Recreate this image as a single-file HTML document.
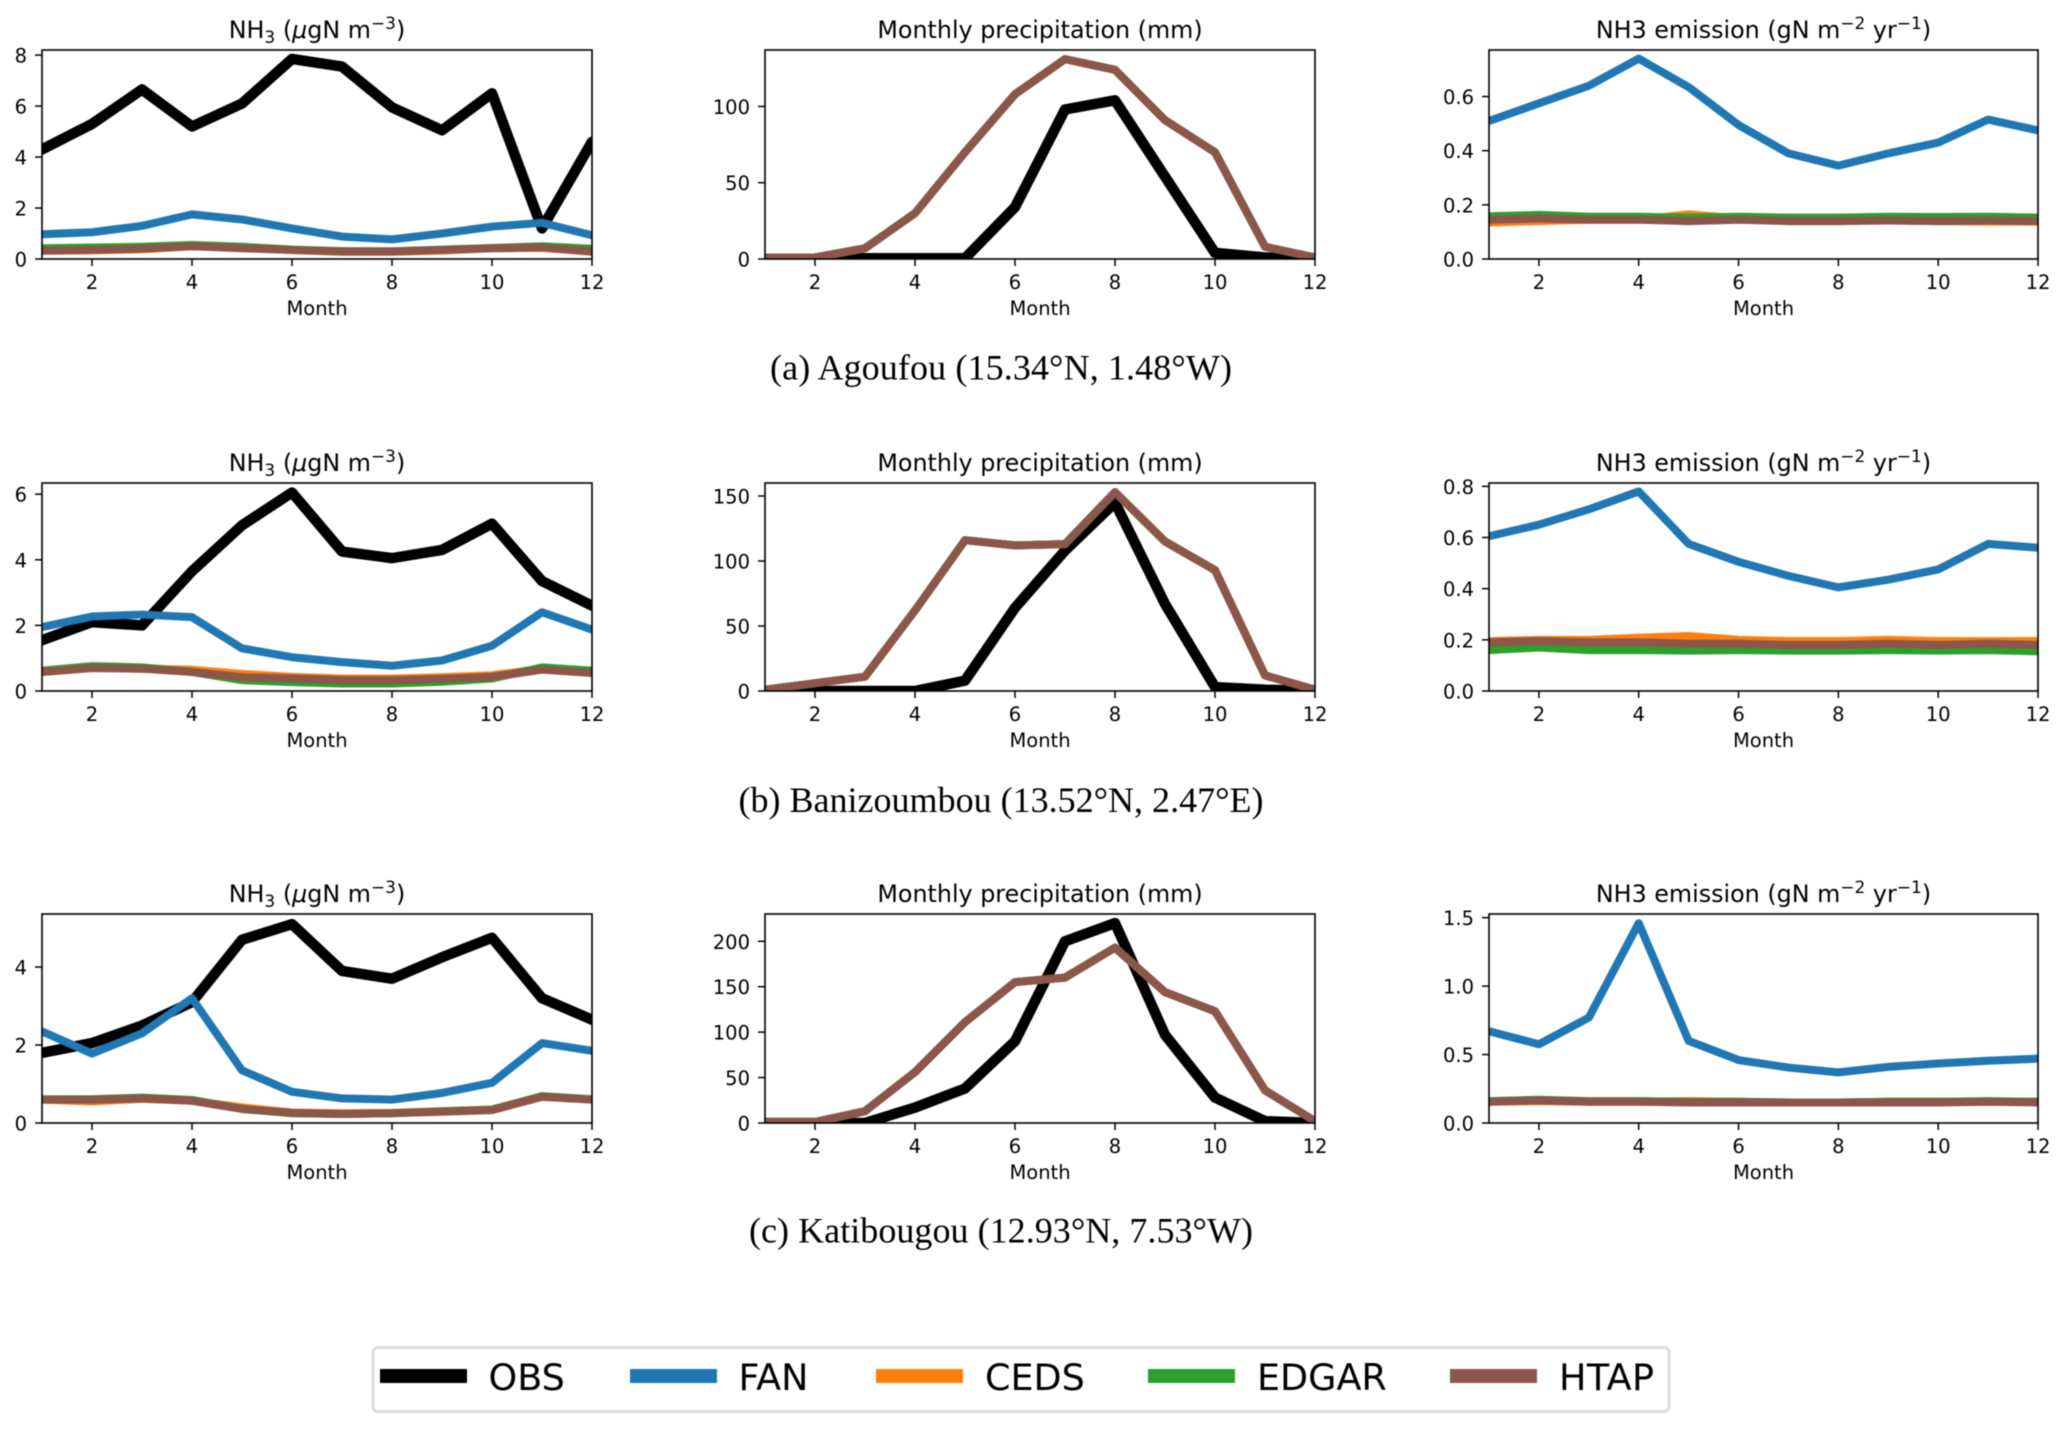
<!DOCTYPE html>
<html lang="en">
<head>
<meta charset="utf-8">
<title>NH3, precipitation and emission at three sites</title>
<style>
html,body{margin:0;padding:0;background:#fff;overflow:hidden;}
svg{display:block;filter:blur(0.45px);}
text{font-family:"DejaVu Sans","Liberation Sans",sans-serif;fill:#000;}
.caption{font-family:"Liberation Serif",serif;font-size:36px;}
</style>
</head>
<body>
<svg id="figure" width="2067" height="1431" viewBox="0 0 2067 1431" xmlns="http://www.w3.org/2000/svg">
  <rect x="0" y="0" width="2067" height="1431" fill="#fff"/>
  <g id="panels"></g>
  <text class="caption" x="1001" y="379.5" text-anchor="middle" textLength="462" lengthAdjust="spacing">(a) Agoufou (15.34°N, 1.48°W)</text>
  <text class="caption" x="1001" y="812" text-anchor="middle" textLength="525" lengthAdjust="spacing">(b) Banizoumbou (13.52°N, 2.47°E)</text>
  <text class="caption" x="1001" y="1242.5" text-anchor="middle" textLength="504" lengthAdjust="spacing">(c) Katibougou (12.93°N, 7.53°W)</text>
  <g>
    <rect x="373" y="1347.5" width="1296" height="64" rx="5" fill="#fff" stroke="#dcdcdc" stroke-width="3"/>
    <rect x="380" y="1369" width="87" height="14" fill="#000"/>
    <text x="488.5" y="1390" font-size="36.5">OBS</text>
    <rect x="630" y="1369" width="87" height="14" fill="#1f77b4"/>
    <text x="738.5" y="1390" font-size="36.5">FAN</text>
    <rect x="876" y="1369" width="87" height="14" fill="#ff7f0e"/>
    <text x="985" y="1390" font-size="36.5">CEDS</text>
    <rect x="1148" y="1369" width="87" height="14" fill="#2ca02c"/>
    <text x="1257" y="1390" font-size="36.5">EDGAR</text>
    <rect x="1450" y="1369" width="87" height="14" fill="#8c564b"/>
    <text x="1559" y="1390" font-size="36.5" textLength="95" lengthAdjust="spacing">HTAP</text>
  </g>
</svg>
<script>
// ---- shared categories and labels ----
const months = [1,2,3,4,5,6,7,8,9,10,11,12];
const xTickLabels = [2,4,6,8,10,12];

// ---- (a) Agoufou ----
const agoufouNh3Obs   = [4.3,5.3,6.65,5.2,6.1,7.85,7.55,5.95,5.05,6.5,1.2,4.6];
const agoufouNh3Fan   = [0.97,1.05,1.3,1.75,1.55,1.2,0.88,0.77,1.0,1.27,1.42,0.93];
const agoufouNh3Ceds  = [0.32,0.34,0.38,0.5,0.45,0.35,0.28,0.28,0.33,0.42,0.44,0.28];
const agoufouNh3Edgar = [0.42,0.45,0.48,0.55,0.48,0.37,0.31,0.3,0.37,0.43,0.5,0.4];
const agoufouNh3Htap  = [0.33,0.36,0.4,0.5,0.42,0.36,0.3,0.3,0.36,0.42,0.45,0.3];
const agoufouNh3Ticks = [0,2,4,6,8];
const agoufouRainObs   = [0,0,0.5,0.5,0.5,34,98,104,54,4,1,0];
const agoufouRainModel = [1,1,7,30,70,108,131,124,91,70,8,1];
const agoufouRainTicks = [0,50,100];
const agoufouEmisFan   = [0.51,0.575,0.64,0.74,0.635,0.495,0.39,0.345,0.39,0.43,0.515,0.475];
const agoufouEmisCeds  = [0.135,0.14,0.145,0.145,0.165,0.15,0.14,0.14,0.145,0.14,0.138,0.138];
const agoufouEmisEdgar = [0.158,0.163,0.156,0.156,0.153,0.156,0.153,0.153,0.156,0.155,0.156,0.153];
const agoufouEmisHtap  = [0.145,0.15,0.145,0.145,0.14,0.145,0.14,0.14,0.142,0.14,0.142,0.14];
const agoufouEmisTicks = ["0.0","0.2","0.4","0.6"];

// ---- (b) Banizoumbou ----
const baniNh3Obs   = [1.55,2.1,2.0,3.65,5.05,6.05,4.25,4.05,4.3,5.1,3.35,2.6];
const baniNh3Fan   = [1.95,2.27,2.33,2.25,1.3,1.03,0.88,0.77,0.93,1.38,2.4,1.87];
const baniNh3Ceds  = [0.58,0.7,0.68,0.65,0.52,0.43,0.38,0.38,0.42,0.48,0.68,0.58];
const baniNh3Edgar = [0.62,0.76,0.72,0.58,0.33,0.27,0.23,0.23,0.28,0.38,0.72,0.62];
const baniNh3Htap  = [0.58,0.7,0.68,0.58,0.42,0.38,0.33,0.33,0.37,0.43,0.65,0.55];
const baniNh3Ticks = [0,2,4,6];
const baniRainObs   = [0,0,0,0,8,64,108,145,67,3,1,0];
const baniRainModel = [1,6,11,62,116,112,113,153,115,93,12,1];
const baniRainTicks = [0,50,100,150];
const baniEmisFan   = [0.605,0.65,0.71,0.78,0.575,0.505,0.45,0.405,0.435,0.475,0.575,0.56];
const baniEmisCeds  = [0.195,0.2,0.2,0.208,0.215,0.2,0.195,0.195,0.2,0.195,0.195,0.195];
const baniEmisEdgar = [0.16,0.17,0.16,0.16,0.158,0.16,0.158,0.158,0.16,0.158,0.16,0.155];
const baniEmisHtap  = [0.19,0.195,0.19,0.19,0.185,0.185,0.18,0.18,0.185,0.18,0.185,0.18];
const baniEmisTicks = ["0.0","0.2","0.4","0.6","0.8"];

// ---- (c) Katibougou ----
const katiNh3Obs   = [1.8,2.05,2.5,3.1,4.7,5.1,3.9,3.7,4.25,4.75,3.2,2.65];
const katiNh3Fan   = [2.35,1.78,2.3,3.2,1.35,0.8,0.63,0.6,0.77,1.03,2.05,1.85];
const katiNh3Ceds  = [0.6,0.55,0.62,0.57,0.4,0.27,0.25,0.26,0.3,0.35,0.68,0.6];
const katiNh3Edgar = [0.61,0.61,0.65,0.59,0.36,0.25,0.23,0.25,0.3,0.34,0.69,0.61];
const katiNh3Htap  = [0.6,0.6,0.63,0.57,0.36,0.26,0.23,0.25,0.29,0.33,0.67,0.6];
const katiNh3Ticks = [0,2,4];
const katiRainObs   = [0,0,0,17,38,90,200,220,97,28,2,0];
const katiRainModel = [1,1,13,56,111,155,160,193,144,123,36,2];
const katiRainTicks = [0,50,100,150,200];
const katiEmisFan   = [0.67,0.575,0.77,1.46,0.6,0.46,0.405,0.37,0.41,0.435,0.455,0.47];
const katiEmisCeds  = [0.155,0.16,0.155,0.155,0.16,0.155,0.15,0.15,0.155,0.155,0.155,0.155];
const katiEmisEdgar = [0.16,0.17,0.16,0.16,0.155,0.155,0.15,0.15,0.155,0.155,0.16,0.155];
const katiEmisHtap  = [0.155,0.165,0.155,0.155,0.15,0.15,0.15,0.15,0.15,0.15,0.155,0.15];
const katiEmisTicks = ["0.0","0.5","1.0","1.5"];

// ---- y-axis upper limits, one per column, by site ----
const agoufouYMax = [8.2,137,0.772];
const baniYMax    = [6.34,160,0.813];
const katiYMax    = [5.36,230,1.527];

const seriesStyle = {
  OBS:{color:"#000000",width:10.5},
  FAN:{color:"#1f77b4",width:8},
  CEDS:{color:"#ff7f0e",width:8},
  EDGAR:{color:"#2ca02c",width:8},
  HTAP:{color:"#8c564b",width:8}
};

const panels = [
 {site:"agoufou",col:0,row:0,yMax:agoufouYMax[0],ticks:agoufouNh3Ticks,series:[["OBS",agoufouNh3Obs],["FAN",agoufouNh3Fan],["CEDS",agoufouNh3Ceds],["EDGAR",agoufouNh3Edgar],["HTAP",agoufouNh3Htap]]},
 {site:"agoufou",col:1,row:0,yMax:agoufouYMax[1],ticks:agoufouRainTicks,series:[["OBS",agoufouRainObs],["FAN",agoufouRainModel],["CEDS",agoufouRainModel],["EDGAR",agoufouRainModel],["HTAP",agoufouRainModel]]},
 {site:"agoufou",col:2,row:0,yMax:agoufouYMax[2],ticks:agoufouEmisTicks,series:[["FAN",agoufouEmisFan],["CEDS",agoufouEmisCeds],["EDGAR",agoufouEmisEdgar],["HTAP",agoufouEmisHtap]]},
 {site:"banizoumbou",col:0,row:1,yMax:baniYMax[0],ticks:baniNh3Ticks,series:[["OBS",baniNh3Obs],["FAN",baniNh3Fan],["CEDS",baniNh3Ceds],["EDGAR",baniNh3Edgar],["HTAP",baniNh3Htap]]},
 {site:"banizoumbou",col:1,row:1,yMax:baniYMax[1],ticks:baniRainTicks,series:[["OBS",baniRainObs],["FAN",baniRainModel],["CEDS",baniRainModel],["EDGAR",baniRainModel],["HTAP",baniRainModel]]},
 {site:"banizoumbou",col:2,row:1,yMax:baniYMax[2],ticks:baniEmisTicks,series:[["FAN",baniEmisFan],["CEDS",baniEmisCeds],["EDGAR",baniEmisEdgar],["HTAP",baniEmisHtap]]},
 {site:"katibougou",col:0,row:2,yMax:katiYMax[0],ticks:katiNh3Ticks,series:[["OBS",katiNh3Obs],["FAN",katiNh3Fan],["CEDS",katiNh3Ceds],["EDGAR",katiNh3Edgar],["HTAP",katiNh3Htap]]},
 {site:"katibougou",col:1,row:2,yMax:katiYMax[1],ticks:katiRainTicks,series:[["OBS",katiRainObs],["FAN",katiRainModel],["CEDS",katiRainModel],["EDGAR",katiRainModel],["HTAP",katiRainModel]]},
 {site:"katibougou",col:2,row:2,yMax:katiYMax[2],ticks:katiEmisTicks,series:[["FAN",katiEmisFan],["CEDS",katiEmisCeds],["EDGAR",katiEmisEdgar],["HTAP",katiEmisHtap]]}
];

// ---- page geometry ----
const colBox = [{l:42,r:592},{l:765,r:1315},{l:1489,r:2038}];
const rowBox = [{t:50,b:259},{t:483,b:691},{t:914,b:1123}];
const columnNames = ["nh3","precipitation","emission"];
const SVGNS = "http://www.w3.org/2000/svg";
const root = document.getElementById("panels");
const defs = document.createElementNS(SVGNS,"defs");
root.appendChild(defs);

function mk(tag,parent,attrs,txt){
  const el = document.createElementNS(SVGNS,tag);
  for(const k in attrs){ el.setAttribute(k,attrs[k]); }
  if(txt!==undefined){ el.textContent = txt; }
  parent.appendChild(el);
  return el;
}
function addTspan(textEl,txt,opts){
  const t = document.createElementNS(SVGNS,"tspan");
  if(opts&&opts.dy){ t.setAttribute("dy",opts.dy); }
  if(opts&&opts.size){ t.setAttribute("font-size",opts.size); }
  if(opts&&opts.italic){ t.setAttribute("font-style","italic"); }
  t.textContent = txt;
  textEl.appendChild(t);
}
function writeTitle(textEl,col){
  if(col===0){
    addTspan(textEl,"NH");
    addTspan(textEl,"3",{dy:5,size:17});
    addTspan(textEl," (",{dy:-5});
    addTspan(textEl,"μ",{italic:true});
    addTspan(textEl,"gN m");
    addTspan(textEl,"−3",{dy:-9,size:17});
    addTspan(textEl,")",{dy:9});
  } else if(col===1){
    addTspan(textEl,"Monthly precipitation (mm)");
  } else {
    addTspan(textEl,"NH3 emission (gN m");
    addTspan(textEl,"−2",{dy:-9,size:17});
    addTspan(textEl," yr",{dy:9});
    addTspan(textEl,"−1",{dy:-9,size:17});
    addTspan(textEl,")",{dy:9});
  }
}

panels.forEach(function(p,idx){
  const box = colBox[p.col], rb = rowBox[p.row];
  const xScale = function(m){ return box.l + (m - months[0])/(months[months.length-1]-months[0])*(box.r-box.l); };
  const yScale = function(v){ return rb.b - v/p.yMax*(rb.b-rb.t); };
  const tag = p.site + "-" + columnNames[p.col];

  const g = mk("g",root,{});
  
  

  const clipId = "clip"+idx;
  const cp = mk("clipPath",defs,{id:clipId});
  mk("rect",cp,{x:box.l,y:rb.t,width:box.r-box.l,height:rb.b-rb.t});

  const marks = mk("g",g,{"clip-path":"url(#"+clipId+")"});
  
  
  p.series.forEach(function(s){
    const st = seriesStyle[s[0]];
    const pts = s[1].map(function(v,i){ return xScale(months[i]).toFixed(2)+","+yScale(v).toFixed(2); }).join(" ");
    const line = mk("polyline",marks,{points:pts,fill:"none",stroke:st.color,"stroke-width":st.width,"stroke-linejoin":"round","stroke-linecap":"round"});
    
    
  });

  const frame = mk("rect",g,{x:box.l,y:rb.t,width:box.r-box.l,height:rb.b-rb.t,fill:"none",stroke:"#000","stroke-width":1.6});
  
  

  xTickLabels.forEach(function(m){
    const x = xScale(m);
    const tick = mk("line",g,{x1:x,x2:x,y1:rb.b,y2:rb.b+7,stroke:"#000","stroke-width":1.5});
    
    
    const lbl = mk("text",g,{x:x,y:rb.b+30,"text-anchor":"middle","font-size":19.5},String(m));
    
    
  });
  p.ticks.forEach(function(t){
    const y = yScale(Number(t));
    const tick = mk("line",g,{x1:box.l-7,x2:box.l,y1:y,y2:y,stroke:"#000","stroke-width":1.5});
    
    
    const lbl = mk("text",g,{x:box.l-15,y:y+7.5,"text-anchor":"end","font-size":19.5},String(t));
    
    
  });

  const xTitle = mk("text",g,{x:(box.l+box.r)/2,y:rb.b+56,"text-anchor":"middle","font-size":19.5},"Month");
  
  

  const title = mk("text",g,{x:(box.l+box.r)/2,y:rb.t-12,"text-anchor":"middle","font-size":23.8});
  
  
  writeTitle(title,p.col);
});
</script>
</body>
</html>
